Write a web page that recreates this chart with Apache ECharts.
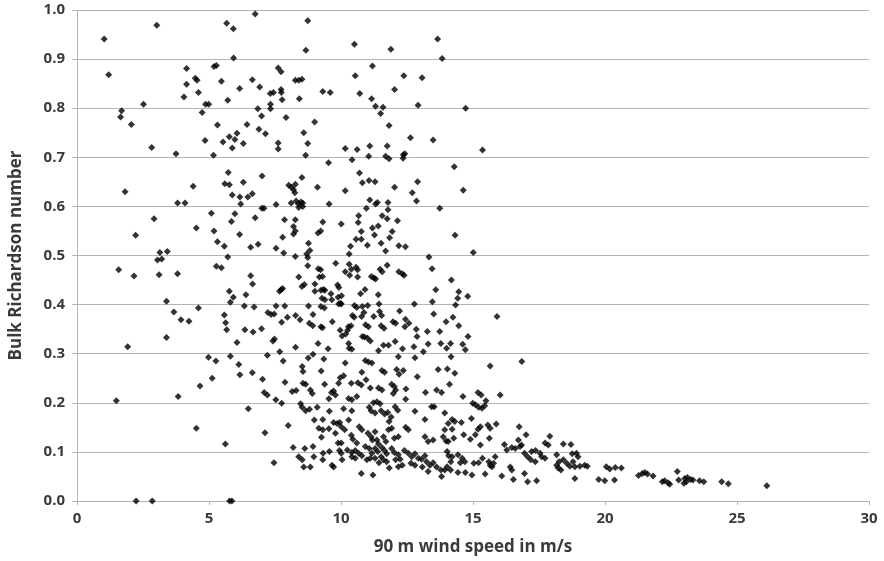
<!DOCTYPE html>
<html>
<head>
<meta charset="utf-8">
<script src="https://cdn.jsdelivr.net/npm/echarts@6/dist/echarts.min.js"></script>
<style>
  html, body { margin: 0; padding: 0; background: #fff; }
  #chart { width: 884px; height: 561px; }
</style>
</head>
<body>
<div id="chart"></div>
<script>
// [wind speed at 90 m (m/s), bulk Richardson number]
const pointsUpper = [
  [1.03,0.941],[3.02,0.969],[6.75,0.992],[5.67,0.973],[5.92,0.962],[1.20,0.868],[5.93,0.902],[4.15,0.881],[5.19,0.885],[5.28,0.887],
  [4.48,0.861],[4.55,0.857],[4.15,0.849],[5.47,0.855],[6.64,0.858],[6.92,0.843],[6.16,0.840],[4.60,0.832],[4.05,0.823],[5.71,0.816],
  [4.87,0.808],[4.99,0.808],[6.85,0.799],[6.99,0.784],[1.69,0.795],[1.65,0.782],[2.52,0.808],[2.06,0.767],[4.74,0.791],[5.32,0.766],
  [6.44,0.767],[6.89,0.757],[6.06,0.749],[5.77,0.742],[5.98,0.736],[5.53,0.731],[4.85,0.734],[6.30,0.728],[5.88,0.719],[2.83,0.720],
  [3.75,0.707],[5.17,0.704],
  [8.74,0.978],[8.67,0.918],[10.51,0.930],[11.89,0.920],[13.66,0.941],[13.83,0.901],[7.62,0.882],[7.73,0.874],[8.27,0.857],[8.40,0.857],
  [8.52,0.859],[7.32,0.830],[7.44,0.832],[7.73,0.838],[7.74,0.832],[7.77,0.817],[8.42,0.819],[9.31,0.834],[9.59,0.832],[10.54,0.866],
  [11.19,0.886],[12.38,0.866],[13.07,0.862],[12.03,0.838],[10.71,0.830],[11.16,0.819],[11.31,0.804],[11.59,0.802],[11.50,0.789],[11.82,0.765],
  [12.92,0.806],[12.63,0.740],[13.49,0.735],[7.33,0.808],[7.33,0.799],[7.92,0.781],[7.14,0.748],[9.00,0.772],[8.59,0.750],[8.74,0.728],
  [7.62,0.729],[7.62,0.717],[8.66,0.704],[9.53,0.689],[10.16,0.718],[10.61,0.716],[11.09,0.723],[10.42,0.695],[11.05,0.702],[11.75,0.723],
  [11.69,0.702],[11.82,0.697],[12.36,0.705],[12.42,0.707],[12.35,0.698],[14.72,0.800],[15.36,0.715],[14.29,0.681]
];

const pointsLeft = [
  [1.82,0.630],[4.40,0.641],[5.73,0.669],[5.60,0.646],[5.77,0.644],[6.30,0.649],[7.01,0.662],[5.88,0.623],[6.17,0.619],[6.47,0.619],
  [6.64,0.626],[6.20,0.605],[3.81,0.607],[4.09,0.607],[7.00,0.596],[5.09,0.586],[5.98,0.585],[5.85,0.569],[6.75,0.577],[2.92,0.575],
  [4.52,0.556],[5.19,0.550],[6.16,0.543],[2.22,0.541],[5.32,0.528],[5.58,0.519],[6.86,0.523],[6.58,0.517],[5.71,0.497],[3.14,0.506],
  [3.42,0.508],[3.05,0.491],[3.21,0.493],[5.28,0.478],[5.47,0.475],[1.58,0.471],[2.16,0.458],[3.11,0.461],[3.81,0.463],[6.58,0.459],
  [6.65,0.442],[5.77,0.427],[5.92,0.415],[5.81,0.405],[6.40,0.420],[3.39,0.407],[6.34,0.397],[6.71,0.395],[4.60,0.393],[3.67,0.385],
  [5.58,0.379],[3.94,0.369],[4.24,0.366],[5.63,0.363],[5.67,0.349],[6.36,0.349],[6.67,0.344],[6.99,0.351],[3.39,0.333],
  [1.49,0.204],[1.92,0.314],[2.24,0],[2.85,0],[5.78,0],[5.87,0],[3.83,0.213],[4.52,0.148],[4.66,0.234],[4.98,0.293],
  [5.26,0.285],[5.12,0.250],[5.62,0.116],[5.81,0.295],[6.06,0.323],[6.13,0.278],[6.17,0.257],[6.64,0.261],[6.49,0.188],[7.03,0.248]
];

const pointsMiddle = [
  [8.52,0.659],[10.70,0.668],[10.81,0.648],[11.06,0.653],[11.29,0.650],[9.11,0.639],[10.16,0.632],[12.03,0.639],[12.90,0.650],[12.70,0.628],
  [12.86,0.611],[8.02,0.643],[8.12,0.639],[8.20,0.634],[8.25,0.628],[8.27,0.645],[7.54,0.604],[7.08,0.596],[8.11,0.607],[8.30,0.611],
  [8.39,0.605],[8.48,0.609],[8.55,0.600],[8.40,0.598],[8.55,0.607],[9.55,0.605],[11.09,0.613],[11.38,0.608],[11.31,0.605],[11.78,0.608],
  [10.96,0.596],[11.78,0.593],[13.74,0.596],[10.67,0.581],[11.56,0.581],[11.75,0.575],[7.86,0.573],[8.27,0.573],[9.31,0.568],[10.65,0.567],
  [12.14,0.571],[10.01,0.564],[8.20,0.559],[8.27,0.550],[11.19,0.556],[11.41,0.560],[9.13,0.546],[9.23,0.550],[8.20,0.544],[10.77,0.549],
  [11.27,0.542],[11.94,0.549],[7.79,0.537],[10.57,0.533],[10.77,0.533],[11.84,0.536],[11.52,0.525],[8.77,0.525],[10.36,0.519],[11.00,0.521],
  [12.19,0.520],[12.44,0.518],[7.54,0.515],[8.82,0.510],[8.70,0.503],[8.74,0.496],[7.83,0.505],[10.31,0.503],[11.69,0.509],[8.27,0.498],
  [13.33,0.497],[8.74,0.479],[9.80,0.484],[10.31,0.482],[11.75,0.480],[9.14,0.473],[9.23,0.471],[10.16,0.467],[10.33,0.460],[10.39,0.472],
  [10.57,0.476],[10.63,0.471],[11.48,0.472],[11.56,0.467],[12.19,0.467],[12.32,0.463],[12.39,0.460],[13.45,0.473],[8.40,0.456],[9.18,0.456],
  [9.30,0.457],[10.63,0.456],[11.15,0.457],[11.25,0.454],[11.31,0.452],[9.01,0.442],[8.52,0.437],[8.61,0.441],[9.87,0.440],[9.92,0.435],
  [7.67,0.427],[7.73,0.430],[7.79,0.433],[9.24,0.429],[9.33,0.431],[9.39,0.429],[9.01,0.427],[10.91,0.431],[9.62,0.422],[13.59,0.430],
  [10.02,0.418],[9.89,0.415],[9.98,0.403],[10.74,0.422],[9.65,0.410],[9.28,0.413],[9.39,0.410],[11.41,0.420],[13.46,0.406],[10.51,0.398],
  [10.60,0.394],[10.81,0.396],[11.01,0.398],[11.44,0.401],[9.91,0.401],[10.01,0.401],[8.77,0.397],[9.24,0.396],[9.37,0.393],[12.78,0.401],
  [7.54,0.397],[7.87,0.397],[12.22,0.387],[10.87,0.384],[11.46,0.386],[7.23,0.384],[7.35,0.380],[7.47,0.381],[7.97,0.374],[8.28,0.378],
  [8.45,0.369],[8.94,0.380],[9.67,0.365],[10.43,0.378],[10.50,0.374],[10.78,0.376],[11.24,0.376],[11.54,0.378],[11.97,0.365],[12.07,0.362],
  [12.44,0.370],[12.57,0.362],[13.51,0.381],[13.98,0.365],[7.75,0.364],[8.80,0.362],[8.93,0.357],[9.24,0.355],[9.30,0.353],[9.97,0.348],
  [10.18,0.340],[10.28,0.355],[10.38,0.357],[10.25,0.348],[10.93,0.359],[11.04,0.355],[11.52,0.357],[11.63,0.352],[12.42,0.355],[12.85,0.350],
  [13.27,0.345],[13.74,0.345],[12.88,0.335],[10.81,0.335],[11.00,0.332],[7.48,0.330],
  [14.63,0.633],[14.32,0.541],[15.01,0.506],[14.18,0.450],[14.46,0.426],[14.42,0.413],[14.80,0.417],[14.34,0.399],[15.91,0.376],[14.24,0.374],
  [14.46,0.357],[14.81,0.335]
];

const pointsLower = [
  [7.42,0.326],[8.28,0.313],[7.21,0.297],[7.68,0.304],[9.13,0.321],[9.51,0.310],[10.04,0.336],[10.29,0.321],[10.31,0.311],[10.41,0.309],
  [10.89,0.334],[11.11,0.326],[11.42,0.306],[11.61,0.317],[11.80,0.317],[12.05,0.325],[12.33,0.310],[12.76,0.314],[13.12,0.304],[13.30,0.320],
  [13.78,0.321],[14.00,0.311],[12.17,0.294],[12.80,0.292],[8.94,0.299],[8.76,0.291],[9.35,0.289],[7.81,0.285],[10.16,0.281],[10.92,0.286],
  [11.04,0.283],[11.17,0.281],[8.53,0.274],[8.56,0.264],[9.25,0.265],[9.97,0.251],[10.10,0.255],[10.79,0.262],[11.55,0.266],[11.65,0.262],
  [12.11,0.268],[12.36,0.266],[12.20,0.258],[12.89,0.253],[13.68,0.268],[14.03,0.269],[7.88,0.242],[8.56,0.240],[8.66,0.238],[9.38,0.238],
  [9.91,0.240],[10.39,0.240],[10.64,0.241],[10.77,0.236],[10.95,0.247],[11.11,0.230],[11.42,0.230],[11.55,0.226],[11.92,0.238],[12.02,0.233],
  [12.07,0.226],[11.98,0.219],[12.46,0.228],[13.20,0.221],[13.62,0.226],[13.81,0.221],[7.09,0.221],[7.21,0.216],[7.53,0.206],[7.75,0.199],
  [8.15,0.223],[8.30,0.225],[8.84,0.226],[8.91,0.219],[9.64,0.221],[9.72,0.224],[9.79,0.216],[9.54,0.208],[10.29,0.209],[10.41,0.206],
  [10.60,0.213],[8.47,0.198],[8.53,0.191],[8.66,0.184],[8.81,0.187],[9.10,0.191],[9.56,0.183],[10.10,0.188],[10.41,0.184],[11.07,0.191],
  [11.23,0.200],[11.36,0.202],[11.48,0.198],[11.14,0.184],[11.29,0.179],[11.52,0.184],[11.65,0.177],[11.77,0.180],[11.90,0.171],[11.82,0.162],
  [12.05,0.192],[12.15,0.185],[12.45,0.207],[12.80,0.183],[13.18,0.166],[13.43,0.192],[13.53,0.192],[13.93,0.179],[8.99,0.165],[9.31,0.166],
  [9.72,0.160],[9.85,0.158],[9.95,0.160],[10.29,0.165],[8.00,0.154],[7.12,0.139],[9.16,0.148],[9.31,0.145],[9.54,0.147],[10.01,0.151],
  [10.14,0.145],[10.69,0.151],[10.79,0.145],[9.26,0.130],[9.79,0.138],[9.89,0.118],[10.01,0.118],[10.39,0.134],[10.45,0.126],[10.60,0.118],
  [11.02,0.138],[11.14,0.131],[11.19,0.124],[11.29,0.141],[11.36,0.124],[11.42,0.116],[11.61,0.131],[11.70,0.121],[12.02,0.128],[12.17,0.131],
  [11.80,0.145],[11.92,0.148],[12.45,0.150],[12.55,0.145],[13.18,0.131],[13.30,0.121],[13.49,0.124],[13.87,0.131],[13.93,0.145],[14.06,0.121],
  [8.19,0.109],[8.63,0.107],[8.94,0.111],[9.32,0.097],[9.56,0.101],[9.94,0.103],[10.01,0.097],[10.24,0.104],[10.41,0.099],[10.54,0.103],
  [10.67,0.097],[10.92,0.111],[11.07,0.107],[11.29,0.107],[11.39,0.101],[11.55,0.109],[11.65,0.103],[11.73,0.096],[11.52,0.090],[11.61,0.084],
  [11.73,0.080],[11.44,0.078],[11.29,0.087],[11.17,0.097],[11.92,0.107],[12.02,0.099],[12.17,0.094],[12.07,0.084],[12.24,0.085],[12.40,0.103],
  [12.55,0.097],[12.68,0.090],[12.80,0.096],[12.93,0.087],[13.05,0.085],[13.18,0.092],[13.24,0.080],[13.37,0.073],[13.49,0.078],[13.62,0.069],
  [13.78,0.063],[13.81,0.050],[14.08,0.092],[14.16,0.080],[7.46,0.078],[8.40,0.090],[8.53,0.084],[8.59,0.069],[8.84,0.069],[8.97,0.090],
  [9.31,0.084],[9.66,0.073],[9.72,0.069],[10.04,0.084],[10.41,0.090],[10.54,0.087],[10.79,0.092],[10.98,0.084],[11.11,0.087],[10.77,0.056],
  [11.21,0.053],[11.83,0.067],[12.17,0.070],[12.32,0.073],[12.65,0.077],[12.80,0.073],[13.08,0.069],[13.30,0.060]
];

const pointsTail = [
  [14.15,0.321],[14.61,0.319],[14.71,0.308],[14.17,0.294],[14.31,0.260],[14.11,0.238],[15.65,0.275],[16.85,0.284],[14.62,0.213],[15.19,0.221],
  [15.31,0.216],[16.03,0.216],[14.99,0.199],[15.09,0.196],[15.21,0.191],[15.34,0.189],[15.44,0.194],[15.49,0.204],[14.06,0.158],[14.21,0.166],
  [14.31,0.162],[14.56,0.160],[14.94,0.168],[14.21,0.146],[14.65,0.135],[14.90,0.126],[15.09,0.135],[15.19,0.146],[15.28,0.151],[15.56,0.155],
  [15.65,0.148],[15.62,0.128],[15.88,0.157],[16.19,0.115],[16.60,0.107],[16.72,0.124],[16.78,0.111],[16.84,0.114],[16.75,0.151],[17.01,0.135],
  [16.28,0.104],[16.47,0.109],[15.28,0.114],[13.98,0.122],[14.27,0.128],[14.02,0.101],[14.21,0.090],[14.43,0.094],[14.59,0.087],[14.69,0.080],
  [14.52,0.078],[14.15,0.063],[14.43,0.058],[14.71,0.058],[14.96,0.053],[13.93,0.063],[14.02,0.070],[15.03,0.077],[15.36,0.087],[15.21,0.078],
  [15.60,0.080],[15.72,0.070],[15.46,0.055],[15.65,0.073],[15.78,0.077],[15.84,0.090],[16.09,0.051],[16.41,0.069],[16.47,0.063],[16.53,0.044],
  [16.95,0.056],[17.07,0.039],[17.41,0.041],[16.95,0.097],[17.07,0.090],[17.22,0.101],[17.37,0.103],[17.54,0.097],[17.60,0.090],[17.73,0.087],
  [17.19,0.084],[17.36,0.080],[17.85,0.114],[17.91,0.132],[17.73,0.118],[18.17,0.094],[18.26,0.080],[18.17,0.073],[18.23,0.067],[18.33,0.063],
  [18.42,0.084],[18.42,0.116],[18.71,0.115],[18.55,0.077],[18.67,0.071],[18.79,0.080],[18.86,0.070],[18.98,0.090],[18.92,0.097],[18.76,0.096],
  [19.05,0.071],[19.23,0.073],[19.33,0.071],[18.86,0.046],[19.76,0.044],[19.99,0.041],[20.36,0.043],[20.05,0.070],[20.18,0.065],[20.39,0.068],
  [20.62,0.067],[21.27,0.052],
  [21.41,0.056],[21.51,0.058],[21.61,0.055],[21.82,0.051],[22.17,0.039],[22.26,0.041],[22.39,0.037],[22.45,0.034],[22.74,0.060],[22.79,0.043],
  [23.02,0.046],[23.08,0.039],[22.99,0.036],[23.24,0.044],[23.33,0.043],[23.12,0.048],[23.58,0.041],[23.74,0.039],[24.42,0.039],[24.67,0.035],
  [26.13,0.031]
];

const xTicks = [0, 5, 10, 15, 20, 25, 30];
const yTicks = [0, 0.1, 0.2, 0.3, 0.4, 0.5, 0.6, 0.7, 0.8, 0.9, 1.0];

const allPoints = pointsUpper.concat(pointsLeft, pointsMiddle, pointsLower, pointsTail);

const chart = echarts.init(document.getElementById('chart'));

const textColor = '#3a3a3a';
const lineColor = '#b4b4b4';
const font = '"Open Sans", "Noto Sans", sans-serif';

chart.setOption({
  animation: false,
  backgroundColor: '#fff',
  grid: { left: 73, right: 15, top: 10, bottom: 60 },
  xAxis: {
    type: 'value',
    min: xTicks[0],
    max: xTicks[xTicks.length - 1],
    interval: 5,
    name: '90 m wind speed in m/s',
    nameLocation: 'middle',
    nameGap: 38,
    nameTextStyle: { color: textColor, fontSize: 17, fontFamily: font, fontWeight: 'bold' },
    axisLine: { lineStyle: { color: lineColor, width: 1 } },
    axisTick: { show: true, length: 4, lineStyle: { color: lineColor } },
    axisLabel: { color: textColor, fontSize: 15, fontFamily: font, fontWeight: 'bold', margin: 10 },
    splitLine: { show: false }
  },
  yAxis: {
    type: 'value',
    min: yTicks[0],
    max: yTicks[yTicks.length - 1],
    interval: 0.1,
    name: 'Bulk Richardson number',
    nameLocation: 'middle',
    nameGap: 52,
    nameTextStyle: { color: textColor, fontSize: 17, fontFamily: font, fontWeight: 'bold' },
    axisLine: { show: true, lineStyle: { color: lineColor, width: 1 } },
    axisTick: { show: true, length: 5, lineStyle: { color: lineColor } },
    axisLabel: {
      color: textColor, fontSize: 15, fontFamily: font, fontWeight: 'bold', margin: 12,
      formatter: v => v.toFixed(1)
    },
    splitLine: { show: true, lineStyle: { color: lineColor, width: 1 } }
  },
  series: [{
    type: 'scatter',
    data: allPoints,
    symbol: 'diamond',
    symbolSize: 7,
    itemStyle: { color: '#000' },
    silent: true
  }]
});
</script>
</body>
</html>
